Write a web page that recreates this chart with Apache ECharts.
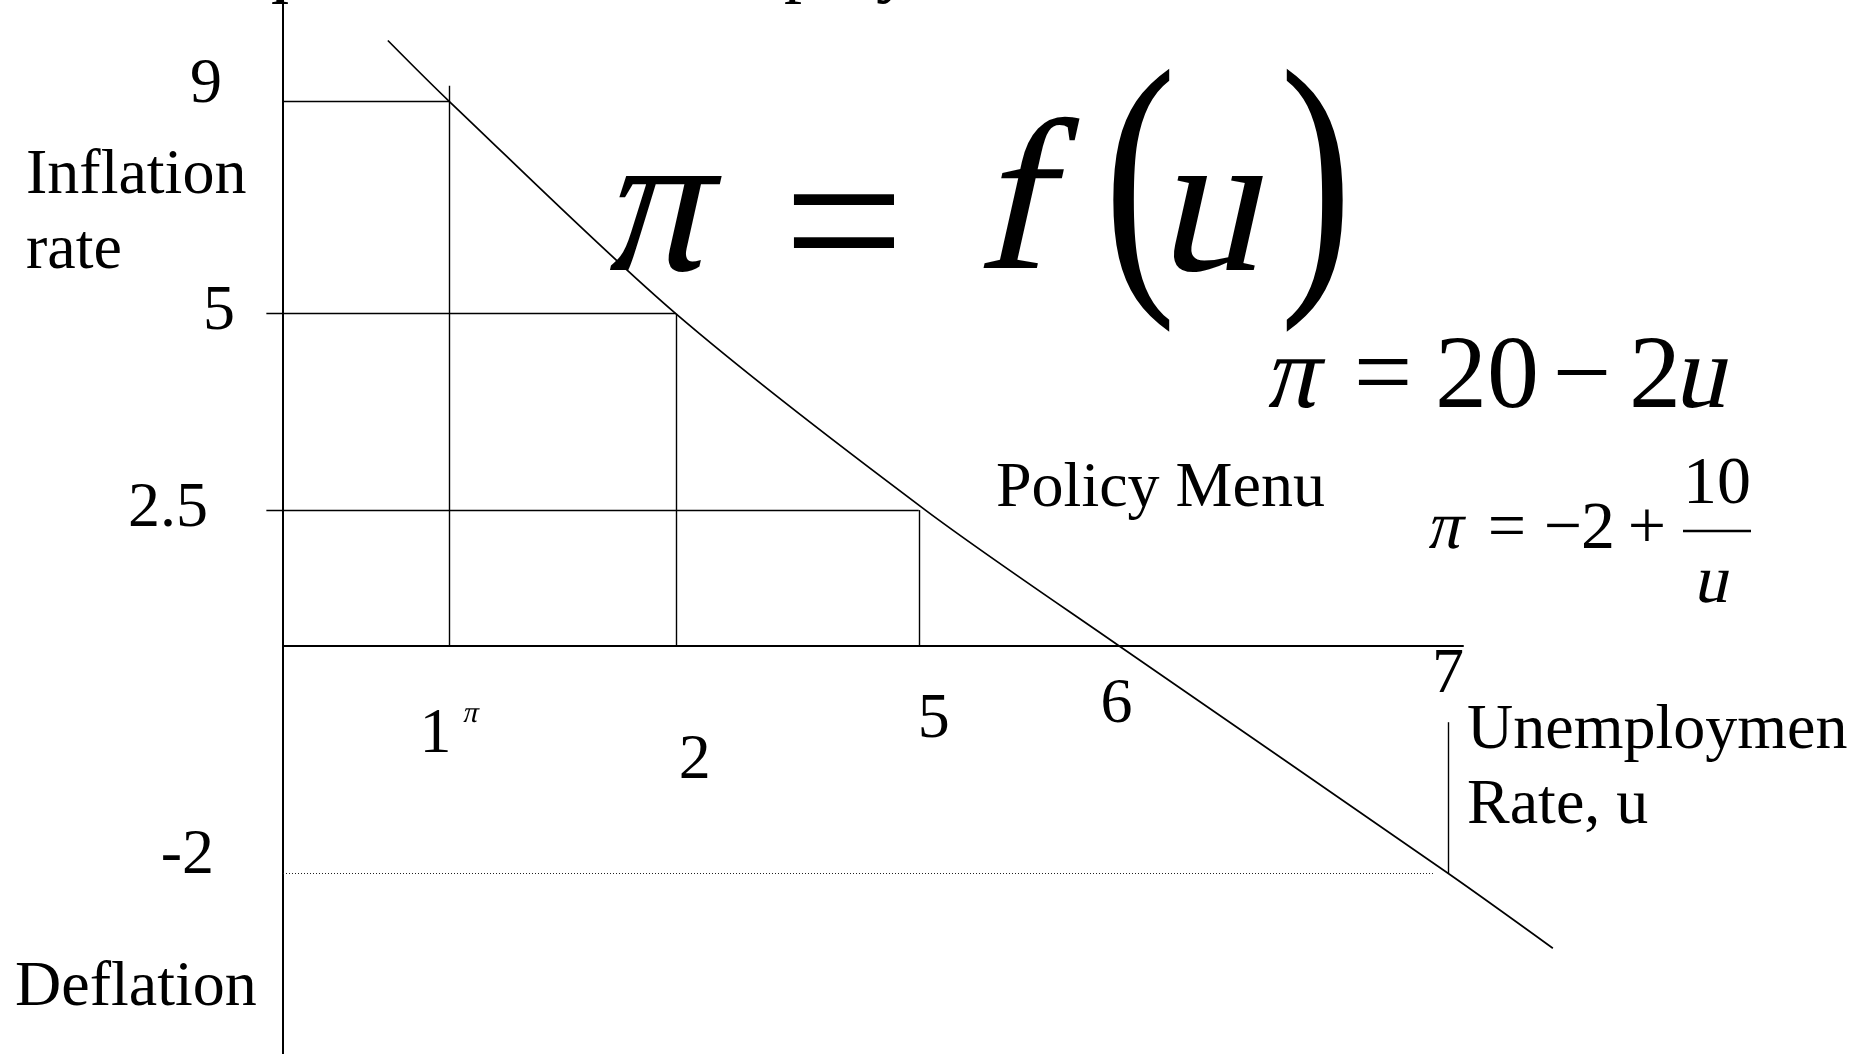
<!DOCTYPE html>
<html>
<head>
<meta charset="utf-8">
<title>Policy Menu</title>
<script src="https://cdn.jsdelivr.net/npm/echarts@6.0.0/dist/echarts.min.js"></script>
<style>
  html, body { margin: 0; padding: 0; background: #fff; }
  #chart { width: 1872px; height: 1054px; }
</style>
</head>
<body>
<div id="chart"></div>
<script>
// the slide is a sketch, not drawn to scale, so both axes run in "sketch units":
// u = 1 and u = 7 sit at 1 and 7 along the bottom, pi = 9 at 9 up the side
const uTicks = ['1', '2', '5', '6', '7'];
const uTickAt = [1.0, 2.36, 3.82, 5.02, 7.0];
const piTicks = ['9', '5', '2.5', '-2'];
const piTickAt = [9.0, 5.49, 2.24, -3.77];

// the curve
const curveU = [0.63, 1.0, 2.36, 3.86, 5.02, 7.0, 7.63];
const curvePi = [10.01, 9.0, 5.49, 2.24, 0, -3.77, -5.01];

const FONT = '"Liberation Serif", "Times New Roman", serif';

// drop lines from the curve to both axes
const guides = [
  [[0, piTickAt[0]], [uTickAt[0], piTickAt[0]]],
  [[uTickAt[0], piTickAt[0] + 0.26], [uTickAt[0], 0]],
  [[-0.1, piTickAt[1]], [uTickAt[1], piTickAt[1]]],
  [[uTickAt[1], piTickAt[1]], [uTickAt[1], 0]],
  [[-0.1, piTickAt[2]], [uTickAt[2], piTickAt[2]]],
  [[uTickAt[2], piTickAt[2]], [uTickAt[2], 0]],
  [[uTickAt[4], piTickAt[3]], [uTickAt[4], -1.27]],
];
const deflationLine = [[[0, piTickAt[3]], [6.91, piTickAt[3]]]];

const hiddenAxis = {
  axisTick: { show: false },
  axisLabel: { show: false },
  splitLine: { show: false },
};
const axisLine = { show: true, onZero: true, lineStyle: { color: '#000', width: 2 } };

const chart = echarts.init(document.getElementById('chart'));
chart.setOption({
  animation: false,
  backgroundColor: '#fff',
  // grid 0 only carries the two axis lines, grid 1 (same scale, wider) the marks
  grid: [
    { left: 283, right: 409, top: 0, bottom: 0, outerBoundsMode: 'none' },
    { left: 283, right: 257.56, top: 0, bottom: 0, outerBoundsMode: 'none' },
  ],
  xAxis: [
    { type: 'value', gridIndex: 0, min: 0, max: 7.09, axisLine: axisLine, ...hiddenAxis },
    { type: 'value', gridIndex: 1, min: 0, max: 8, axisLine: { show: false }, ...hiddenAxis },
  ],
  yAxis: [
    { type: 'value', gridIndex: 0, min: -6.76, max: 10.68, axisLine: axisLine, ...hiddenAxis },
    { type: 'value', gridIndex: 1, min: -6.76, max: 10.68, axisLine: { show: false }, ...hiddenAxis },
  ],
  series: [
    {
      type: 'lines',
      coordinateSystem: 'cartesian2d',
      xAxisIndex: 1,
      yAxisIndex: 1,
      clip: false,
      silent: true,
      lineStyle: { color: '#000', width: 1.4, opacity: 1 },
      data: guides.map((c) => ({ coords: c })),
    },
    {
      type: 'lines',
      coordinateSystem: 'cartesian2d',
      xAxisIndex: 1,
      yAxisIndex: 1,
      clip: false,
      silent: true,
      lineStyle: { color: '#222', width: 1.2, type: [1, 2], opacity: 1 },
      data: deflationLine.map((c) => ({ coords: c })),
    },
    {
      type: 'line',
      xAxisIndex: 1,
      yAxisIndex: 1,
      data: curveU.map((u, i) => [u, curvePi[i]]),
      smooth: 0.3,
      symbol: 'none',
      clip: false,
      silent: true,
      lineStyle: { color: '#000', width: 1.7 },
    },
  ],
});

// italic face is not available, so slant the upright one
function txt(text, x, y, size, opts) {
  opts = opts || {};
  return {
    type: 'text',
    x: x,
    y: y + 0.065 * size,
    scaleX: opts.scaleX || 1,
    skewX: opts.italic ? -0.22 : 0,
    silent: true,
    style: {
      text: text,
      fontFamily: FONT,
      fontSize: size,
      fill: '#000',
      align: opts.align || 'left',
      verticalAlign: 'middle',
      width: opts.width,
      overflow: opts.width ? 'truncate' : 'none',
      ellipsis: '',
    },
  };
}

// tick labels sit next to their place on the axes, nudged the way the slide has them
const uTickNudge = [[-14, 86], [19, 112], [15, 71], [-2, 56], [0, 26]];
const piTickNudge = [[-61, -21], [-48, -6], [-75, -5], [-69, -21]];
const px = (x, y) => chart.convertToPixel({ gridIndex: 1 }, [x, y]);

const labels = [];
uTicks.forEach((t, i) => {
  const p = px(uTickAt[i], 0);
  labels.push(txt(t, p[0] + uTickNudge[i][0], p[1] + uTickNudge[i][1], 64, { align: 'center' }));
});
const one = px(uTickAt[0], 0);
labels.push(txt('π', one[0] + 22, one[1] + 67, 30, { align: 'center', italic: true }));
piTicks.forEach((t, i) => {
  const p = px(0, piTickAt[i]);
  labels.push(txt(t, p[0] + piTickNudge[i][0], p[1] + piTickNudge[i][1], 64, { align: 'right' }));
});

const notes = [
  // slide title, only its descenders show at the top edge
  txt('Simple', 155, -35, 72),
  txt('Unemployment', 608, -35, 72),
  txt('Inflation', 26, 172, 64),
  txt('rate', 26, 247, 64),
  txt('Deflation', 15, 984, 64),
  txt('Policy Menu', 996, 485, 64),
  txt('Unemployment', 1467, 727, 64, { width: 385 }),
  txt('Rate, u', 1467, 802, 64),
  // π = f(u)
  txt('π', 664, 203, 205, { align: 'center', italic: true }),
  txt('=', 844, 222, 215, { align: 'center' }),
  txt('f', 1023, 198, 215, { align: 'center', italic: true }),
  txt('(', 1140, 175, 290, { align: 'center', scaleX: 0.75 }),
  txt('u', 1218, 203, 205, { align: 'center', italic: true }),
  txt(')', 1316, 175, 290, { align: 'center', scaleX: 0.75 }),
  // π = 20 − 2u
  txt('π', 1296, 373, 104, { align: 'center', italic: true }),
  txt('=', 1383, 373, 104, { align: 'center' }),
  txt('20', 1487, 373, 104, { align: 'center' }),
  txt('−', 1582, 373, 104, { align: 'center' }),
  txt('2', 1655, 373, 104, { align: 'center' }),
  txt('u', 1705, 373, 104, { align: 'center', italic: true }),
  // π = −2 + 10/u
  txt('π', 1447, 526, 68, { align: 'center', italic: true }),
  txt('=', 1507, 526, 68, { align: 'center' }),
  txt('−', 1563, 526, 68, { align: 'center' }),
  txt('2', 1598, 526, 68, { align: 'center' }),
  txt('+', 1647, 526, 68, { align: 'center' }),
  txt('10', 1717, 481, 68, { align: 'center' }),
  txt('u', 1714, 580, 68, { align: 'center', italic: true }),
  {
    type: 'line',
    silent: true,
    shape: { x1: 1683, y1: 531, x2: 1751, y2: 531 },
    style: { stroke: '#000', lineWidth: 2.5 },
  },
];

chart.setOption({ graphic: labels.concat(notes) });
</script>
</body>
</html>
